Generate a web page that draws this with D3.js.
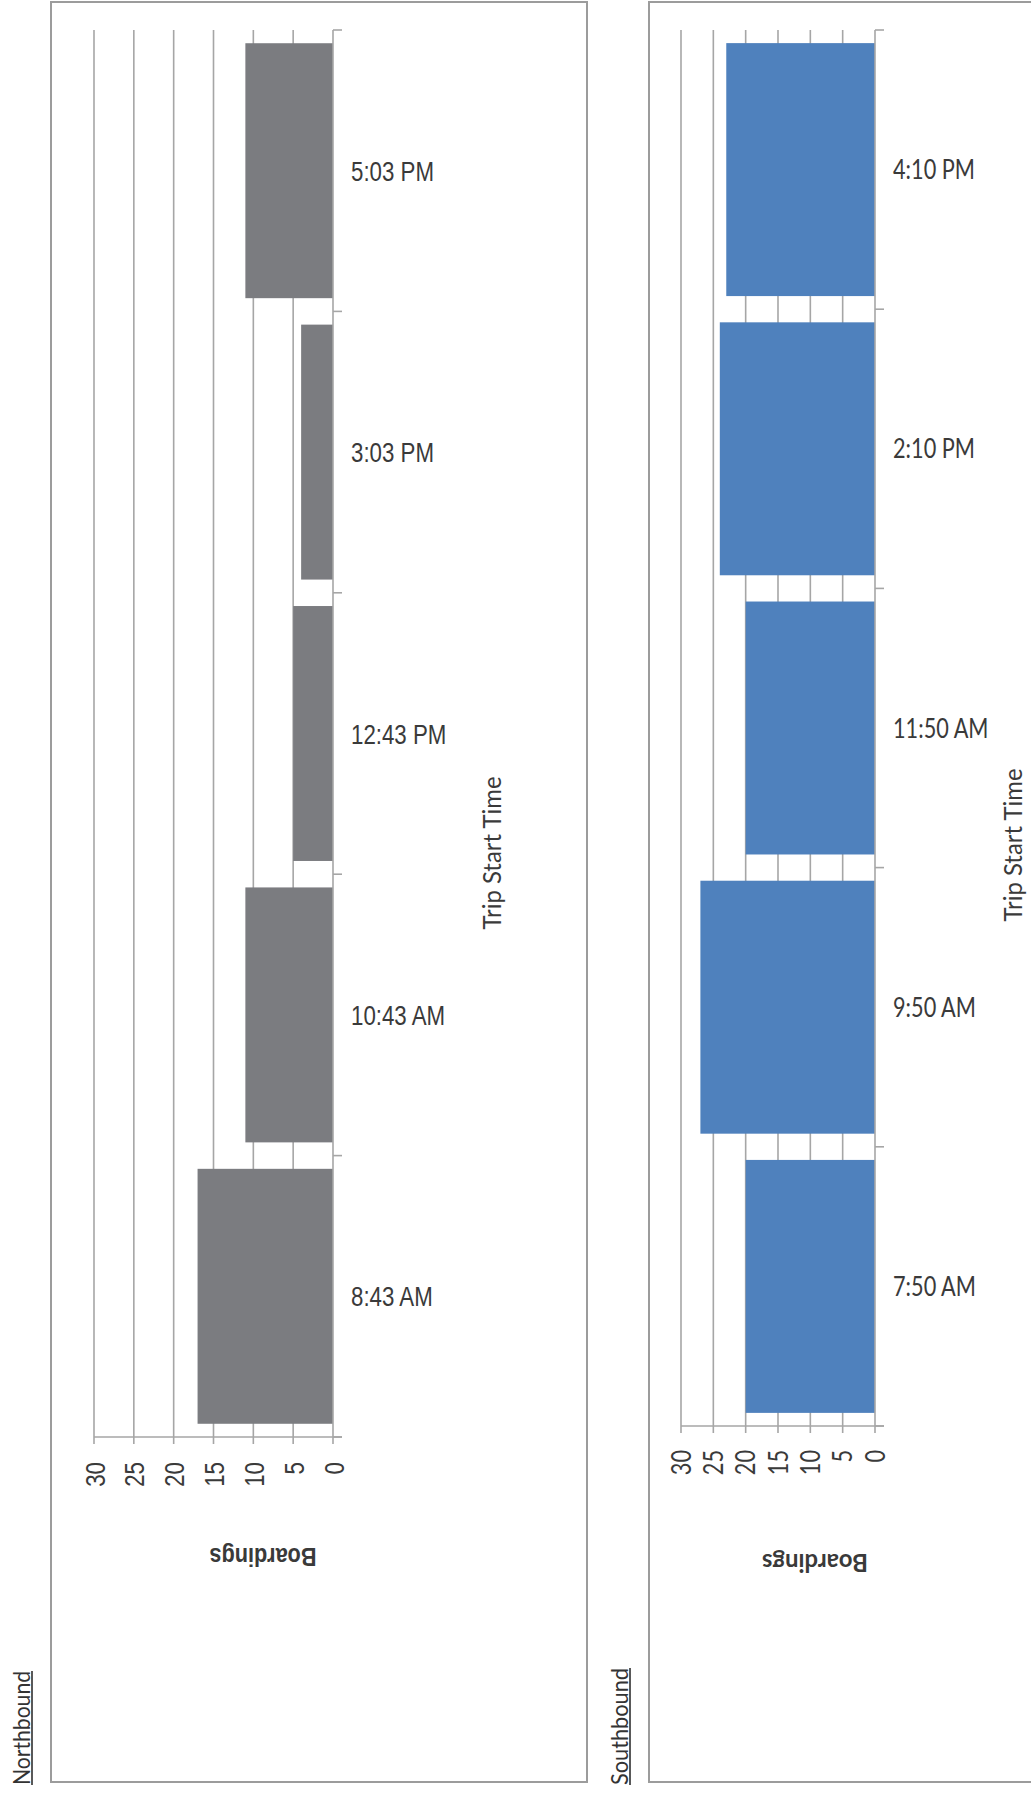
<!DOCTYPE html>
<html>
<head>
<meta charset="utf-8">
<script src="https://cdn.jsdelivr.net/npm/d3@7"></script>
<style>
  html, body { margin: 0; padding: 0; background: #fff; }
  svg { display: block; }
</style>
</head>
<body>
<svg id="chart" width="1031" height="1794"></svg>
<script>
// ---- data ----
const northboundTimes = ["8:43 AM", "10:43 AM", "12:43 PM", "3:03 PM", "5:03 PM"];
const northboundBoardings = [17, 11, 5, 4, 11];
const southboundTimes = ["7:50 AM", "9:50 AM", "11:50 AM", "2:10 PM", "4:10 PM"];
const southboundBoardings = [20, 27, 20, 24, 23];
const boardingTicks = [0, 5, 10, 15, 20, 25, 30];
const panelTitles = ["Northbound", "Southbound"];
const axisTitles = ["Trip Start Time", "Boardings"];

const svg = d3.select("#chart");
const NARROW = "'Liberation Sans', Arial, sans-serif";
const HUMAN = "Lato, 'Open Sans', sans-serif";
const GRID = "#a6a6a6";
const TEXT = "#3a3a3a";

function measure(str, family, size, weight) {
  const t = svg.append("text").attr("font-family", family).attr("font-size", size)
    .attr("font-weight", weight || "normal").text(str);
  const w = t.node().getComputedTextLength();
  t.remove();
  return w;
}
function condense(sel, k) {
  sel.each(function () {
    const w = this.getComputedTextLength();
    d3.select(this).attr("textLength", w * k).attr("lengthAdjust", "spacingAndGlyphs");
  });
}

function drawPanel(cfg, times, values) {
  const g = svg.append("g");
  const f = cfg.frame;
  g.append("path")
    .attr("d", cfg.frameOpenRight
      ? `M${f.x1},${f.y0}H${f.x0}V${f.y1}H${f.x1}`
      : `M${f.x0},${f.y0}H${f.x1}V${f.y1}H${f.x0}Z`)
    .attr("fill", "none").attr("stroke", "#9c9c9c").attr("stroke-width", 2);

  const x = d3.scaleLinear().domain([0, 30]).range([cfg.x0, cfg.x30]);
  const y = d3.scaleBand().domain(times.slice().reverse())
    .range([cfg.yTop, cfg.yBot]).paddingInner(0.094).paddingOuter(0.047);
  const step = y.step();
  const y0 = y.range()[0];

  // gridlines
  g.append("g").selectAll("line").data(boardingTicks.filter(v => v > 0)).join("line")
    .attr("x1", d => x(d)).attr("x2", d => x(d))
    .attr("y1", cfg.yTop).attr("y2", cfg.yBot)
    .attr("stroke", GRID).attr("stroke-width", 1.6);

  // bars
  g.append("g").selectAll("rect").data(times.map((t, i) => ({ t, v: values[i] }))).join("rect")
    .attr("x", d => x(d.v)).attr("width", d => x(0) - x(d.v))
    .attr("y", d => y(d.t)).attr("height", y.bandwidth())
    .attr("fill", cfg.color);

  // value axis (bottom)
  g.append("line").attr("x1", x(30)).attr("x2", x(0) + 9)
    .attr("y1", cfg.yBot).attr("y2", cfg.yBot).attr("stroke", GRID).attr("stroke-width", 1.6);
  g.append("g").selectAll("line").data(boardingTicks).join("line")
    .attr("x1", d => x(d)).attr("x2", d => x(d))
    .attr("y1", cfg.yBot).attr("y2", cfg.yBot + 7)
    .attr("stroke", GRID).attr("stroke-width", 1.6);

  // category axis (at value 0)
  g.append("line").attr("x1", x(0)).attr("x2", x(0))
    .attr("y1", cfg.yTop).attr("y2", cfg.yBot).attr("stroke", GRID).attr("stroke-width", 1.6);
  g.append("g").selectAll("line").data(d3.range(times.length + 1)).join("line")
    .attr("x1", x(0)).attr("x2", x(0) + 9)
    .attr("y1", i => y0 + i * step).attr("y2", i => y0 + i * step)
    .attr("stroke", GRID).attr("stroke-width", 1.6);

  // category labels
  const cl = g.append("g").selectAll("text").data(times).join("text")
    .attr("x", cfg.catX).attr("y", d => y(d) + y.bandwidth() / 2 + cfg.catBase)
    .attr("font-family", cfg.font).attr("font-size", cfg.catSize).attr("fill", TEXT)
    .text(d => d);
  condense(cl, cfg.k);

  // value tick labels (rotated)
  const tl = g.append("g").selectAll("text").data(boardingTicks).join("text")
    .attr("transform", d => `translate(${x(d) + cfg.tickBase},${cfg.tickTop}) rotate(-90)`)
    .attr("text-anchor", "end")
    .attr("font-family", cfg.font).attr("font-size", cfg.tickSize).attr("fill", TEXT)
    .text(d => d);
  condense(tl, cfg.k);

  // axis titles
  g.append("text")
    .attr("transform", `translate(${cfg.tripX},${cfg.tripY}) rotate(-90)`)
    .attr("text-anchor", "middle")
    .attr("font-family", HUMAN).attr("font-size", cfg.tripSize).attr("fill", TEXT)
    .attr("textLength", cfg.tripLen).attr("lengthAdjust", "spacingAndGlyphs")
    .text(axisTitles[0]);
  g.append("text")
    .attr("transform", `translate(${cfg.boardX},${cfg.boardY}) rotate(180)`)
    .attr("text-anchor", "middle")
    .attr("font-family", cfg.boardFont).attr("font-size", cfg.boardSize)
    .attr("font-weight", "bold").attr("fill", TEXT)
    .attr("textLength", cfg.boardLen).attr("lengthAdjust", "spacingAndGlyphs")
    .text(axisTitles[1]);

  // panel title (rotated, underlined)
  g.append("text")
    .attr("transform", `translate(${cfg.titleX},${cfg.titleY}) rotate(-90)`)
    .attr("font-family", HUMAN).attr("font-size", cfg.titleSize).attr("fill", "#333")
    .attr("textLength", cfg.titleLen).attr("lengthAdjust", "spacingAndGlyphs")
    .text(cfg.title);
  g.append("line")
    .attr("x1", cfg.titleX + 2.5).attr("x2", cfg.titleX + 2.5)
    .attr("y1", cfg.titleY).attr("y2", cfg.titleY - cfg.titleLen)
    .attr("stroke", "#222").attr("stroke-width", 1.5);
}

const kNarrow = 83 / measure("5:03 PM", NARROW, 28);
const kHuman = 82 / measure("4:10 PM", HUMAN, 26);

drawPanel({
  frame: { x0: 51, y0: 2, x1: 587, y1: 1782 }, frameOpenRight: false,
  x0: 333, x30: 94, yTop: 30, yBot: 1437, color: "#7b7c80",
  font: NARROW, k: kNarrow, catSize: 28, catX: 351, catBase: 10,
  tickSize: 28, tickBase: 10.5, tickTop: 1462,
  tripX: 501, tripY: 853, tripSize: 25, tripLen: 153,
  boardX: 263, boardY: 1548, boardSize: 26, boardLen: 107, boardFont: NARROW,
  title: panelTitles[0], titleX: 29.5, titleY: 1785, titleSize: 24, titleLen: 114
}, northboundTimes, northboundBoardings);

drawPanel({
  frame: { x0: 649, y0: 2, x1: 1040, y1: 1782 }, frameOpenRight: true,
  x0: 875, x30: 681, yTop: 30, yBot: 1426, color: "#4f81bd",
  font: HUMAN, k: kHuman, catSize: 26, catX: 893, catBase: 9.5,
  tickSize: 26, tickBase: 9.5, tickTop: 1450,
  tripX: 1022, tripY: 845, tripSize: 25, tripLen: 153,
  boardX: 815, boardY: 1554, boardSize: 25, boardLen: 106, boardFont: HUMAN,
  title: panelTitles[1], titleX: 627.5, titleY: 1785, titleSize: 24, titleLen: 117
}, southboundTimes, southboundBoardings);
</script>
</body>
</html>
